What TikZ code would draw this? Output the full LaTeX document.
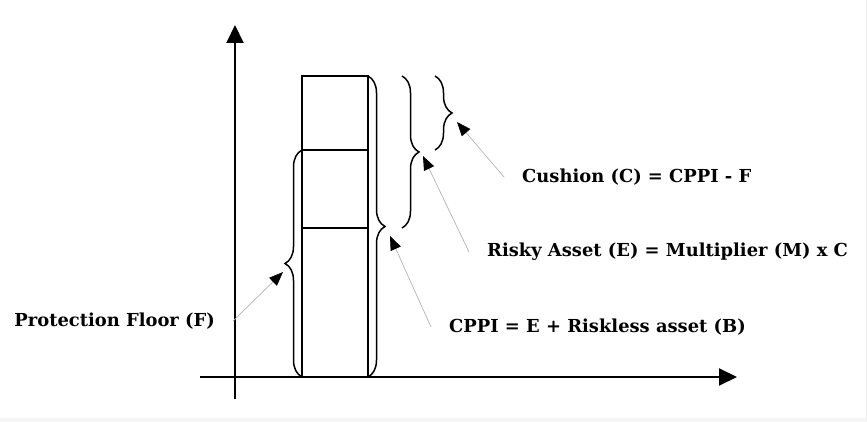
\documentclass[tikz,border=0pt]{standalone}
\usepackage{fontspec}
\setmainfont{DejaVu Serif}
\usetikzlibrary{positioning,calc,arrows.meta,decorations.pathreplacing}
\tikzset{
	cppi/.style={x=1pt,y=-1pt,>={Triangle[length=18pt,width=17pt]}},
	cell/.style={draw,line width=2.4pt,minimum width=66pt,inner sep=0pt,outer sep=0pt},
	axis/.style={->,line width=2pt},
	curly/.style={decorate,decoration={brace,amplitude=17pt},line width=1.5pt},
	pointer/.style={draw=gray!60,line width=0.7pt,-{Triangle[length=14pt,width=11pt,color=black]}},
	eqn/.style={font=\fontsize{17.9}{20}\selectfont\bfseries,inner xsep=18pt,inner ysep=0pt}
}

\begin{document}
\begin{tikzpicture}[cppi]
	\useasboundingbox (0,0) rectangle (867,422);
	\fill[gray!8] (0,418) rectangle (867,422);
	\draw[gray!15] (866.5,0) -- (866.5,418);
	
	% axes
	\coordinate (ybot) at (235,399);
	\coordinate (ytop) at (235,25);
	\coordinate (xleft) at (200,377);
	\coordinate (xright) at (737,377);
	\draw[axis] (ybot) -- (ytop);
	\draw[axis] (xleft) -- (xright);
	
	% the portfolio column
	\node[cell,minimum height=74pt,anchor=north west] (cush) at (302,76) {};
	\node[cell,minimum height=78pt,below=0pt of cush] (risky) {};
	\node[cell,minimum height=149pt,below=0pt of risky] (riskless) {};
	
	% braces
	\draw[curly] (cush.north east) -- (riskless.south east);
	\draw[curly] ([xshift=34pt]cush.north east) -- ([xshift=34pt]risky.south east);
	\draw[curly] ([xshift=67pt]cush.north east) -- ([xshift=67pt]cush.south east);
	\draw[curly] (riskless.south west) -- (risky.north west);
	
	% labels
	\node[eqn,anchor=west] (cushlbl) at (504,177) {Cushion (C) = CPPI - F};
	\node[eqn,anchor=west] (risklbl) at (469,252) {Risky Asset (E) = Multiplier (M) x C};
	\node[eqn,anchor=west] (cppilbl) at (431,327) {CPPI = E + Riskless asset (B)};
	\node[eqn,anchor=east] (floorlbl) at (233,321) {Protection Floor (F)};
	
	\coordinate (cushtip) at (457,122);
	\coordinate (risktip) at (423,156);
	\coordinate (cppitip) at (390,236);
	\coordinate (floortip) at (283,272);
	
	\draw[pointer] (cushlbl.west) -- (cushtip);
	\draw[pointer] (risklbl.west) -- (risktip);
	\draw[pointer] (cppilbl.west) -- (cppitip);
	\draw[pointer] (floorlbl.east) -- (floortip);
	
\end{tikzpicture}
\end{document}
